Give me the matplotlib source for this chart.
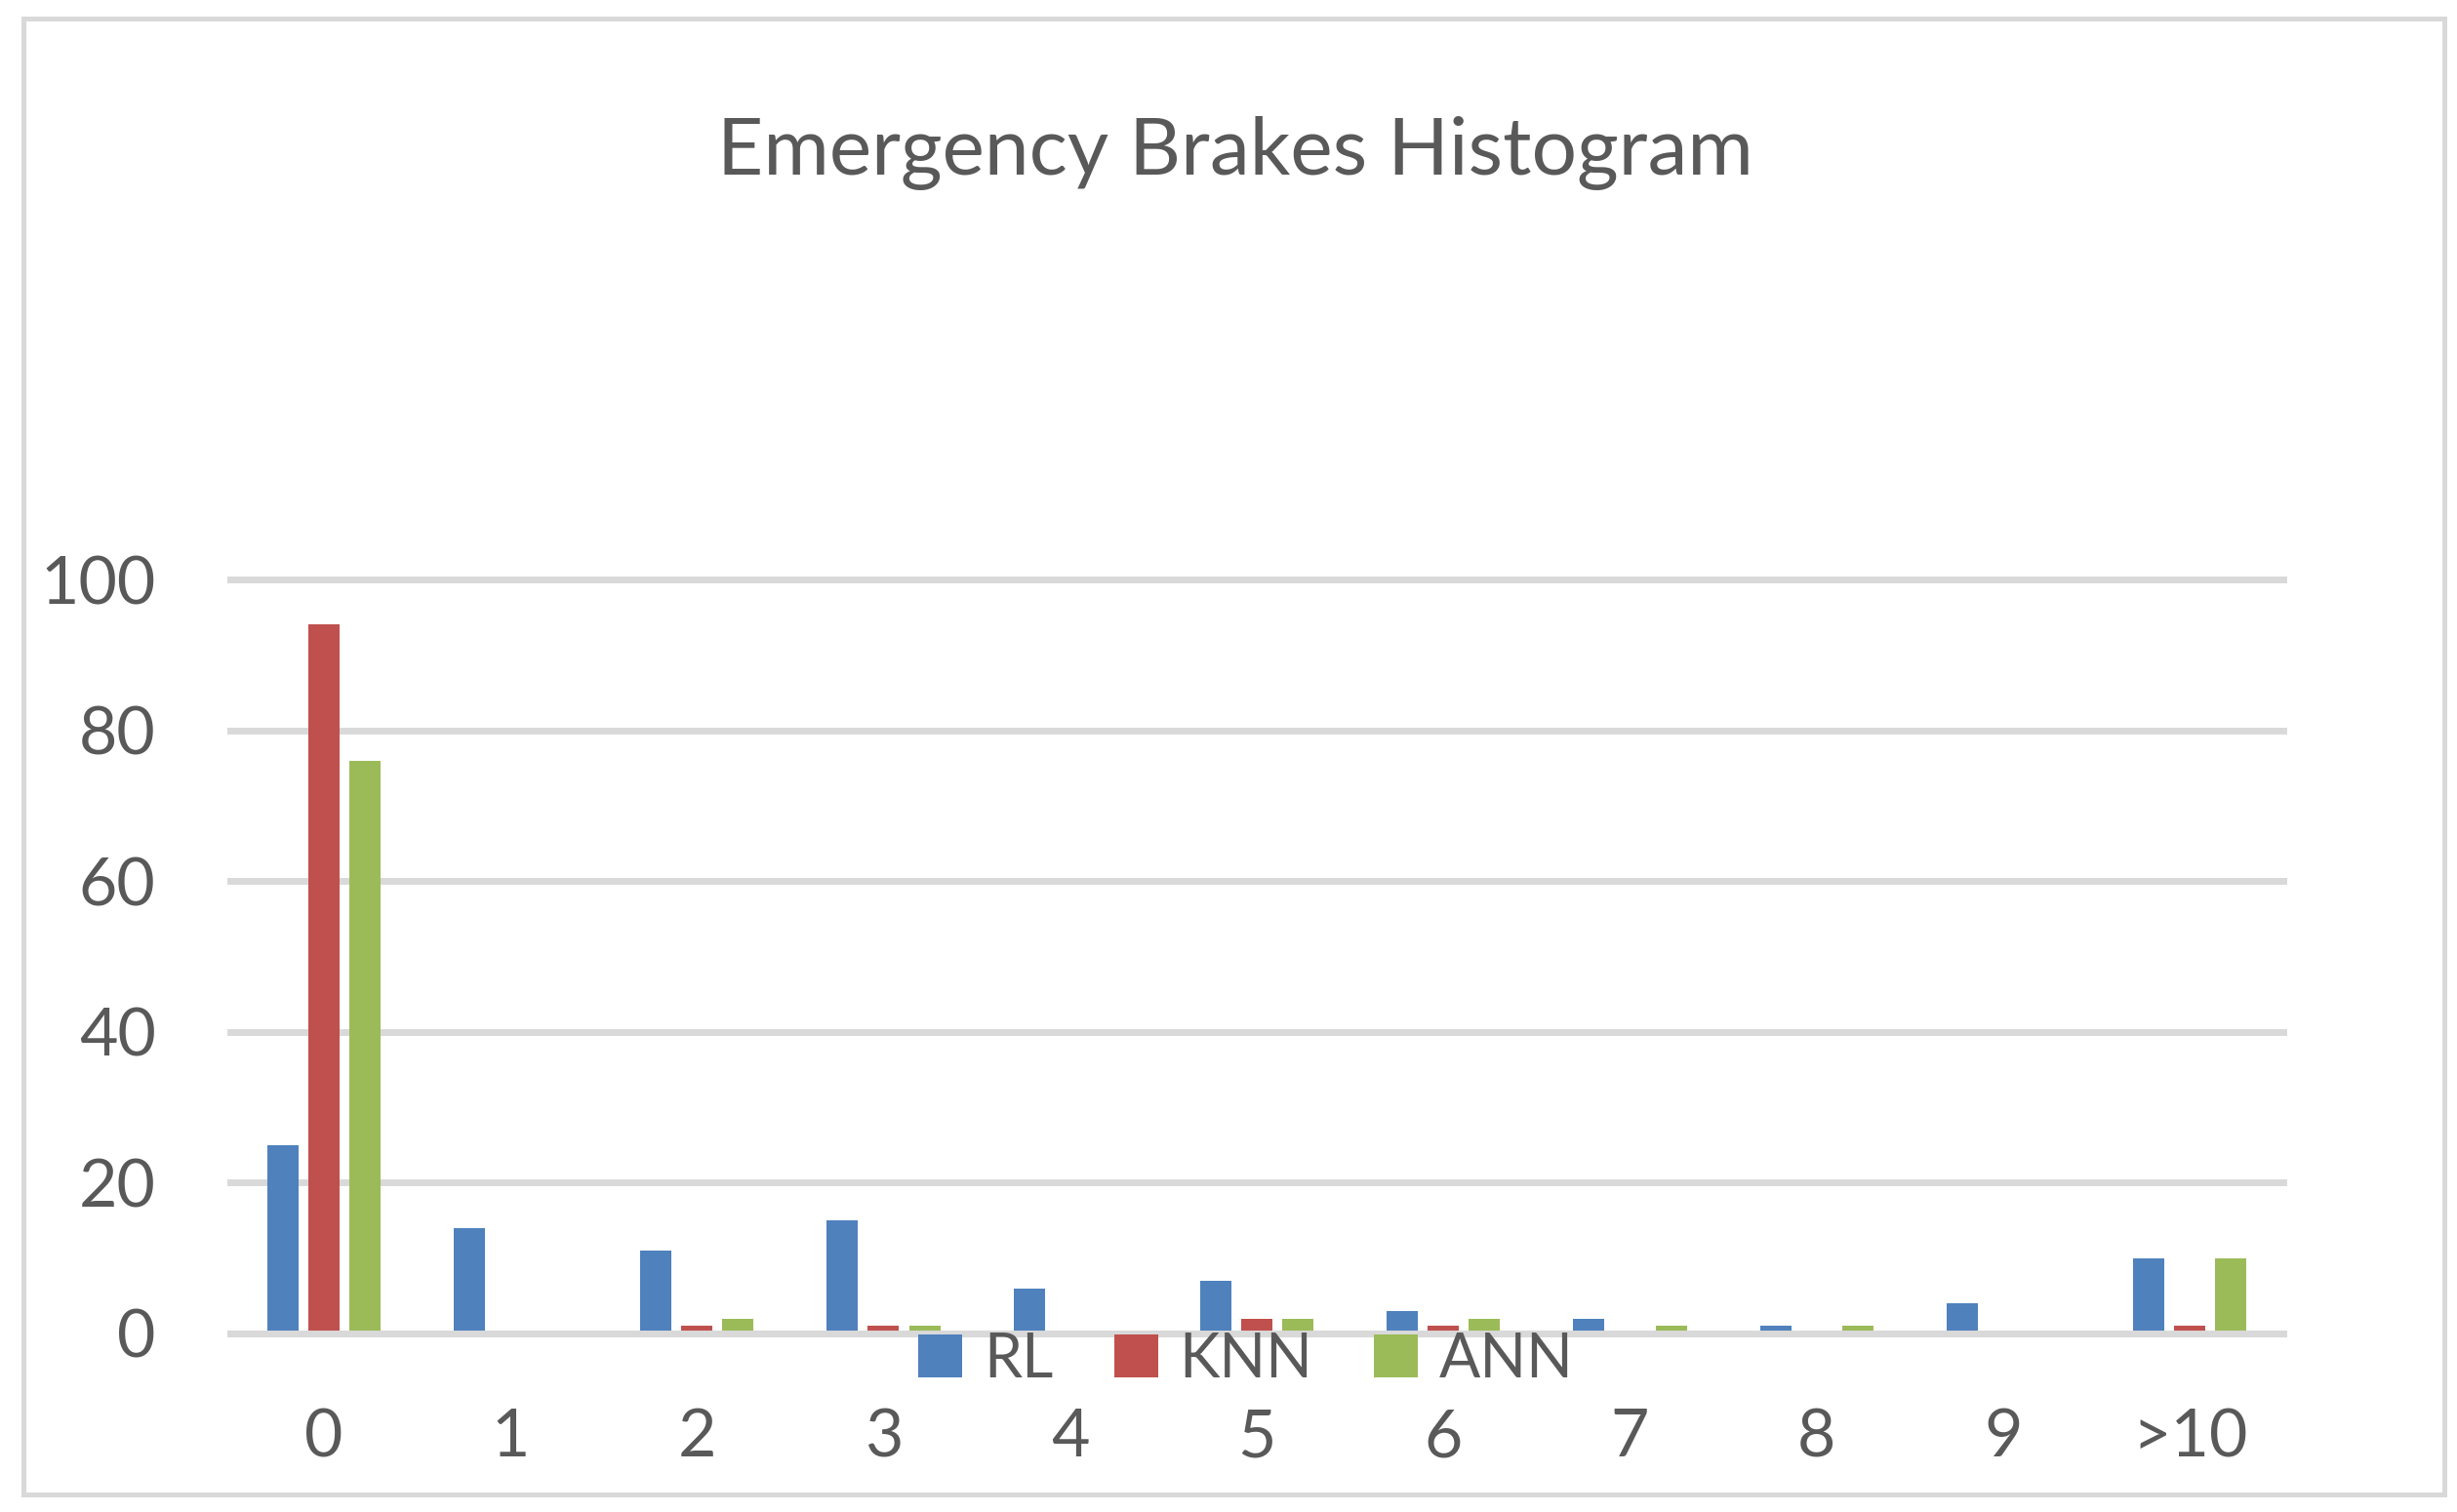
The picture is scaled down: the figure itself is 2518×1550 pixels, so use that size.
import numpy as np
import matplotlib
matplotlib.use("Agg")
import matplotlib.pyplot as plt
from matplotlib.patches import Rectangle

plt.rcParams['font.family'] = ['Lato', 'DejaVu Sans']

# data
bins = ['0', '1', '2', '3', '4', '5', '6', '7', '8', '9', '>10']
rl = [25, 14, 11, 15, 6, 7, 3, 2, 1, 4, 10]
knn = [94, 0, 1, 1, 0, 2, 1, 0, 0, 0, 1]
ann = [76, 0, 2, 1, 0, 2, 2, 1, 1, 0, 10]

series = [('RL', rl, '#4F81BD'), ('KNN', knn, '#C0504D'), ('ANN', ann, '#9BBB59')]
txt_col = '#595959'
grid_col = '#D9D9D9'

W, H = 2518, 1550
fig = plt.figure(figsize=(W / 100, H / 100), dpi=100)

# outer chart border
fig.patches.append(Rectangle((24 / W, 1 - 1532 / H), (2505 - 24) / W, (1532 - 19) / H,
                             transform=fig.transFigure, fill=False,
                             edgecolor=grid_col, linewidth=3.6))

ax = fig.add_axes([236 / W, 1 - 1367 / H, (2340 - 236) / W, (1367 - 594) / H])

x = np.arange(len(bins))
bw = 0.167
step = 0.22
for i, (name, vals, col) in enumerate(series):
    ax.bar(x + (i - 1) * step, vals, width=bw, color=col, label=name, zorder=2)

ax.set_xlim(-0.5, len(bins) - 0.5)
ax.set_ylim(0, 100)
ax.set_yticks([0, 20, 40, 60, 80, 100])
ax.set_xticks(x)
ax.set_xticklabels(bins)

ax.set_axisbelow(True)
ax.yaxis.grid(True, color=grid_col, linewidth=5)
ax.axhline(0, color=grid_col, linewidth=5, zorder=3, clip_on=False)
for s in ax.spines.values():
    s.set_visible(False)
for gl in ax.get_ygridlines():
    gl.set_clip_on(False)

ax.tick_params(axis='both', length=0, labelsize=49, labelcolor=txt_col)
ax.tick_params(axis='y', pad=55)
ax.tick_params(axis='x', pad=55)

fig.text(1266 / W, 1 - 179 / H, 'Emergency Brakes Histogram', ha='center',
         va='baseline', fontsize=59, color=txt_col)

leg = fig.legend(loc='center', bbox_to_anchor=(1277 / W, 1 - 1394 / H), ncol=3,
                 frameon=False, fontsize=45, handlelength=0.72, handleheight=0.69,
                 handletextpad=0.35, columnspacing=1.0, borderpad=0, borderaxespad=0)
for t in leg.get_texts():
    t.set_color(txt_col)

fig.savefig('out.png', dpi=100, facecolor='white')
